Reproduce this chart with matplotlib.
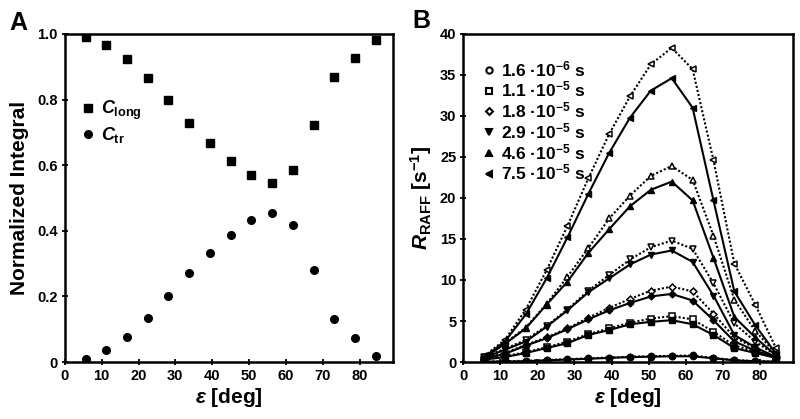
import matplotlib
matplotlib.use("Agg")
import matplotlib.pyplot as plt

plt.rcParams['font.family'] = ['Liberation Sans', 'DejaVu Sans']
plt.rcParams['font.weight'] = 'bold'
plt.rcParams['axes.labelweight'] = 'bold'
plt.rcParams['mathtext.fontset'] = 'custom'
plt.rcParams['mathtext.rm'] = 'Liberation Sans:bold'
plt.rcParams['mathtext.it'] = 'Liberation Sans:italic:bold'
plt.rcParams['mathtext.bf'] = 'Liberation Sans:bold'

#--------------------------------------------------------------------------------------------
# data

eps = [5.625, 11.25, 16.875, 22.5, 28.125, 33.75, 39.375, 45.0, 50.625,
       56.25, 61.875, 67.5, 73.125, 78.75, 84.375]

c_long = [0.992, 0.966, 0.924, 0.866, 0.800, 0.730, 0.669, 0.613, 0.569,
          0.546, 0.585, 0.722, 0.869, 0.927, 0.983]
c_tr = [0.009, 0.037, 0.076, 0.134, 0.200, 0.270, 0.331, 0.387, 0.432,
        0.454, 0.417, 0.279, 0.132, 0.073, 0.018]

tau_labels = ["1.6 ·10$^{-6}$ s", "1.1 ·10$^{-5}$ s", "1.8 ·10$^{-5}$ s",
              "2.9 ·10$^{-5}$ s", "4.6 ·10$^{-5}$ s", "7.5 ·10$^{-5}$ s"]
tau_markers = ["o", "s", "D", "v", "^", "<"]

# solid curves (lower) per tau
r_solid = [
    [0.05, 0.05, 0.1, 0.2, 0.3, 0.4, 0.5, 0.6, 0.65, 0.7, 0.7, 0.45, 0.2, 0.1, 0.05],
    [0.3, 0.6, 1.1, 1.7, 2.3, 3.3, 3.9, 4.6, 4.9, 5.1, 4.6, 3.3, 1.7, 1.1, 0.5],
    [0.4, 1.0, 2.0, 2.9, 4.0, 5.2, 6.3, 7.2, 8.0, 8.3, 7.5, 5.1, 2.5, 1.4, 0.5],
    [0.5, 1.5, 2.5, 4.3, 6.3, 8.5, 10.2, 11.9, 13.1, 13.6, 12.2, 8.1, 3.3, 1.8, 0.6],
    [0.5, 2.2, 4.1, 7.0, 9.8, 13.3, 16.2, 19.0, 21.0, 22.0, 19.7, 12.7, 5.5, 3.0, 0.8],
    [0.6, 2.5, 5.8, 10.2, 15.2, 20.5, 25.5, 29.8, 33.1, 34.6, 31.0, 19.7, 8.6, 4.5, 1.0],
]
# dotted curves (upper) per tau
r_dotted = [
    [0.05, 0.1, 0.15, 0.25, 0.35, 0.45, 0.55, 0.65, 0.7, 0.75, 0.8, 0.5, 0.25, 0.1, 0.05],
    [0.3, 0.7, 1.2, 1.8, 2.5, 3.4, 4.1, 4.8, 5.3, 5.6, 5.2, 3.7, 2.0, 1.3, 0.6],
    [0.4, 1.1, 2.1, 3.0, 4.1, 5.4, 6.6, 7.7, 8.7, 9.2, 8.6, 5.9, 3.0, 1.7, 0.6],
    [0.6, 1.6, 2.7, 4.4, 6.4, 8.7, 10.6, 12.5, 14.0, 14.8, 13.8, 9.6, 4.7, 2.5, 0.8],
    [0.6, 2.3, 4.2, 7.1, 10.4, 13.9, 17.5, 20.3, 22.7, 23.9, 22.2, 15.4, 7.6, 3.8, 1.0],
    [0.7, 2.7, 6.4, 11.2, 16.6, 22.4, 27.8, 32.4, 36.3, 38.3, 35.7, 24.6, 12.0, 7.0, 1.7],
]

#--------------------------------------------------------------------------------------------

def style_axes(ax):
    for s in ax.spines.values():
        s.set_linewidth(1.8)
    ax.tick_params(direction='inout', length=4, width=1.3, labelsize=10.5,
                   top=False, right=False, pad=3)
    for lbl in ax.get_xticklabels() + ax.get_yticklabels():
        lbl.set_fontweight('bold')
    ax.set_xlim(0, 89)
    ax.set_xlabel(r"$\varepsilon$ [deg]", fontsize=15, fontweight='bold', labelpad=2)


fig = plt.figure(figsize=(8, 4.19), dpi=100)
ax_a = fig.add_axes([0.081, 0.136, 0.41, 0.783])
ax_b = fig.add_axes([0.579, 0.136, 0.4125, 0.783])

# panel A
ax_a.plot(eps, c_long, 's', color='black', ms=6, label=r"$C_{\mathbf{long}}$")
ax_a.plot(eps, c_tr, 'o', color='black', ms=5.5, label=r"$C_{\mathbf{tr}}$")
ax_a.set_xticks(range(0, 81, 10))
ax_a.set_ylim(0, 1.0)
ax_a.set_yticks([0, 0.2, 0.4, 0.6, 0.8, 1.0])
ax_a.set_yticklabels(["0", "0.2", "0.4", "0.6", "0.8", "1.0"])
style_axes(ax_a)
ax_a.set_ylabel("Normalized Integral", fontsize=15, fontweight='bold', labelpad=6)
ax_a.legend(loc='upper left', bbox_to_anchor=(0.0, 0.84), frameon=False,
            fontsize=13, handletextpad=0.1, labelspacing=0.15, borderaxespad=0.3,
            handlelength=1.2)

# panel B
for i in range(len(tau_labels)):
    m = tau_markers[i]
    ms = 3.5 if m == 'D' else 4.5
    ax_b.plot(eps, r_dotted[i], linestyle=(0, (1, 1)), color='black', lw=1.5,
              marker=m, ms=ms, mfc='white', mec='black', mew=1.1)
    ax_b.plot(eps, r_solid[i], linestyle='-', color='black', lw=1.5,
              marker=m, ms=ms, mfc='black', mec='black')

handles = []
for i in range(len(tau_labels)):
    m = tau_markers[i]
    open_face = m in ("o", "s", "D")
    h, = ax_b.plot([], [], linestyle='none', marker=m, ms=4.5 if m != 'D' else 3.5,
                   mfc='white' if open_face else 'black', mec='black', mew=1.5)
    handles.append(h)
ax_b.legend(handles, tau_labels, loc='upper left', bbox_to_anchor=(0.02, 0.955),
            frameon=False, fontsize=12.5, handletextpad=0.2, labelspacing=0.05,
            borderaxespad=0.2, handlelength=1.0)

ax_b.set_xticks(range(0, 81, 10))
ax_b.set_ylim(0, 40)
ax_b.set_yticks(range(0, 41, 5))
style_axes(ax_b)
ax_b.set_ylabel(r"$R_{\mathbf{RAFF}}$ [s$^{-1}$]", fontsize=15, fontweight='bold', labelpad=4)

fig.text(0.012, 0.945, "A", fontsize=18, fontweight='bold', ha='left', va='center')
fig.text(0.515, 0.95, "B", fontsize=18, fontweight='bold', ha='left', va='center')

fig.savefig("out.png", dpi=100)
